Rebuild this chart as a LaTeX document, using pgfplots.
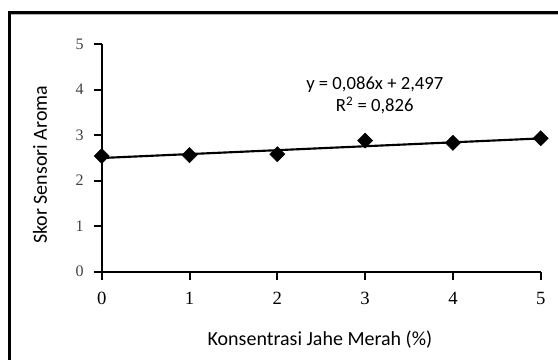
\documentclass[border=0pt]{standalone}
\usepackage{pgfplots}
\pgfplotsset{compat=1.18}
\usepackage{fontspec}
\setmainfont{Liberation Serif}
\newfontfamily\calfont{Carlito}
\begin{document}
\begin{tikzpicture}
\path[use as bounding box] (-76.3pt,-65.5pt) rectangle (342.2pt,203.8pt);
\begin{scope}
\clip (-76.3pt,-65.5pt) rectangle (342.2pt,203.8pt);
\draw[line width=2.3pt,black] (-69.2pt,-80pt) -- (-69.2pt,194.4pt) -- (360pt,194.4pt);
\draw[line width=0.8pt,black!30] (-68pt,192.8pt) -- (360pt,192.8pt);
\end{scope}
\begin{axis}[
  scale only axis,
  width=329.25pt, height=170.8pt,
  xmin=0, xmax=5, ymin=0, ymax=5,
  axis x line=bottom, axis y line=left,
  axis line style={-, line width=1.5pt},
  xtick={0,1,2,3,4,5}, ytick={0,1,2,3,4,5},
  tick align=outside,
  major tick length=6pt,
  tick style={line width=1.5pt, black},
  xticklabel style={font=\fontsize{14}{16}\selectfont, yshift=-6pt},
  yticklabel style={font=\fontsize{12}{14}\selectfont, text=black!75, xshift=-4pt},
  /pgf/number format/assume math mode=true,
  xlabel={Konsentrasi Jahe Merah (\%)},
  ylabel={Skor Sensori Aroma},
  xlabel style={font=\calfont\fontsize{15}{17}\selectfont, at={(axis description cs:0.497,-0.30)}, anchor=center},
  ylabel style={font=\calfont\fontsize{15}{17}\selectfont, at={(axis description cs:-0.1406,0.469)}, anchor=center},
  clip=false,
]
\addplot[only marks, mark=square*, mark size=4pt, mark options={rotate=45, fill=black, draw=black}]
  coordinates {(0,2.54) (1,2.56) (2,2.58) (3,2.88) (4,2.83) (5,2.93)};
\addplot[black, line width=1.6pt, no marks] coordinates {(0,2.497) (5,2.927)};
\node[font=\calfont\fontsize{14}{17}\selectfont, align=center] at (axis cs:3.11,3.87)
  {y = 0,086x + 2,497\\R\textsuperscript{2} = 0,826};
\end{axis}
\end{tikzpicture}
\end{document}
